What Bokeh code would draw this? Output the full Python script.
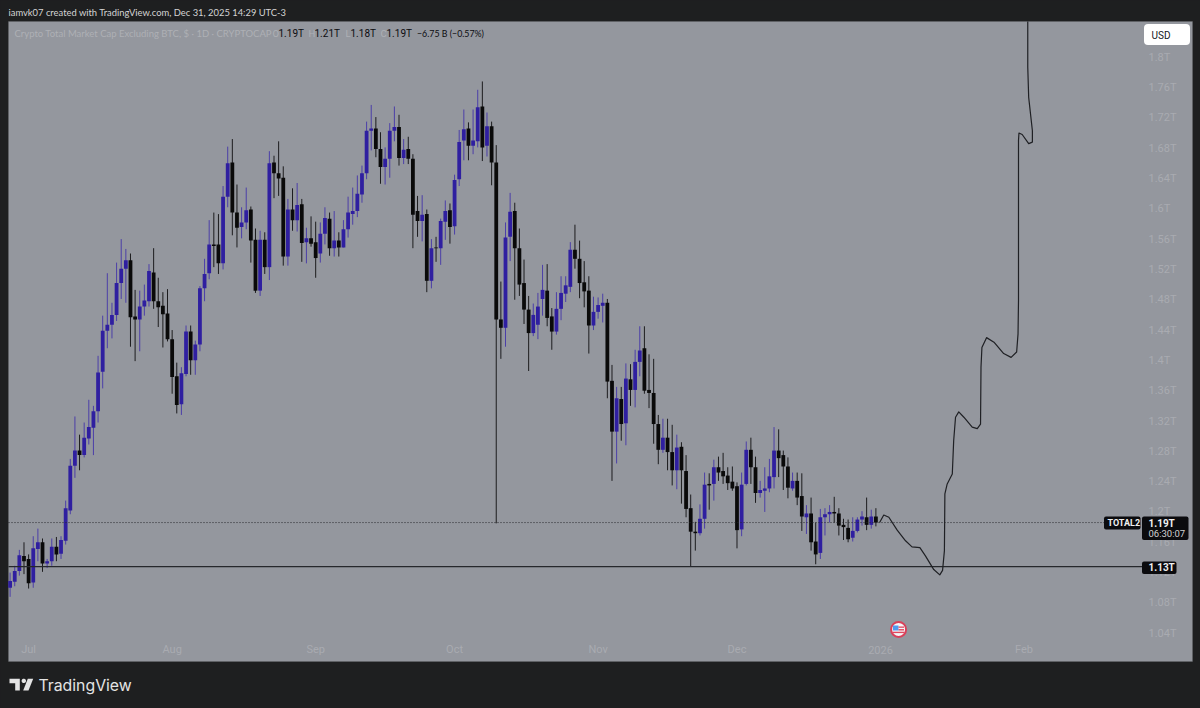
from bokeh.plotting import figure
from bokeh.embed import file_html
from bokeh.resources import INLINE
from bokeh.models import (ColumnDataSource, Range1d, Label, BoxAnnotation, PolyAnnotation)
from bokeh.core.properties import value
import numpy as np

opens = [1.100,1.108,1.122,1.142,1.138,1.107,1.151,1.160,1.132,1.135,1.154,1.145,1.162,1.202,1.261,1.281,1.275,1.297,1.311,1.333,
1.385,1.439,1.447,1.460,1.502,1.521,1.532,1.458,1.454,1.471,1.478,1.516,1.478,1.472,1.462,1.428,1.379,1.342,1.382,1.438,
1.400,1.421,1.495,1.515,1.553,1.553,1.528,1.616,1.661,1.595,1.576,1.582,1.599,1.559,1.492,1.559,1.523,1.661,1.647,1.641,
1.537,1.599,1.585,1.606,1.556,1.561,1.556,1.541,1.567,1.587,1.548,1.558,1.549,1.573,1.593,1.597,1.619,1.647,1.703,1.706,
1.679,1.655,1.666,1.703,1.708,1.667,1.679,1.666,1.597,1.584,1.593,1.505,1.549,1.548,1.583,1.598,1.577,1.639,1.690,1.706,
1.683,1.689,1.735,1.683,1.709,1.661,1.454,1.443,1.563,1.597,1.548,1.502,1.467,1.436,1.447,1.481,1.492,1.458,1.438,1.468,
1.488,1.497,1.546,1.534,1.503,1.492,1.446,1.464,1.472,1.476,1.373,1.306,1.349,1.317,1.375,1.361,1.398,1.416,1.361,1.357,
1.316,1.282,1.298,1.279,1.255,1.286,1.254,1.205,1.174,1.172,1.191,1.237,1.237,1.259,1.254,1.248,1.240,1.234,1.177,1.237,
1.282,1.259,1.225,1.228,1.231,1.246,1.281,1.275,1.260,1.231,1.241,1.221,1.193,1.198,1.161,1.146,1.193,1.197,1.200,1.198,
1.183,1.179,1.166,1.175,1.190,1.193,1.183,1.194]
highs = [1.120,1.129,1.150,1.160,1.144,1.168,1.178,1.165,1.138,1.165,1.167,1.168,1.215,1.270,1.326,1.302,1.318,1.348,1.340,1.406,
1.459,1.515,1.476,1.529,1.560,1.547,1.541,1.493,1.492,1.500,1.527,1.548,1.509,1.490,1.494,1.440,1.397,1.391,1.446,1.446,
1.426,1.498,1.534,1.585,1.595,1.593,1.630,1.682,1.692,1.632,1.602,1.628,1.603,1.574,1.571,1.569,1.676,1.670,1.689,1.656,
1.613,1.627,1.634,1.613,1.575,1.590,1.583,1.582,1.602,1.595,1.597,1.569,1.585,1.616,1.628,1.644,1.657,1.715,1.737,1.721,
1.701,1.681,1.713,1.735,1.724,1.692,1.695,1.672,1.617,1.618,1.599,1.560,1.563,1.587,1.611,1.607,1.645,1.704,1.731,1.714,
1.731,1.757,1.768,1.727,1.715,1.684,1.504,1.582,1.621,1.608,1.574,1.533,1.485,1.475,1.489,1.526,1.527,1.469,1.490,1.511,
1.511,1.556,1.579,1.558,1.531,1.511,1.484,1.483,1.488,1.481,1.394,1.365,1.365,1.396,1.395,1.414,1.445,1.445,1.408,1.402,
1.328,1.323,1.323,1.315,1.302,1.292,1.275,1.223,1.187,1.210,1.252,1.251,1.269,1.273,1.278,1.259,1.260,1.239,1.252,1.293,
1.298,1.273,1.241,1.259,1.270,1.312,1.309,1.281,1.272,1.252,1.252,1.251,1.209,1.219,1.186,1.204,1.205,1.209,1.220,1.205,
1.191,1.190,1.193,1.193,1.201,1.219,1.203,1.205]
lows = [1.088,1.102,1.116,1.118,1.099,1.100,1.135,1.121,1.126,1.129,1.135,1.138,1.157,1.197,1.245,1.255,1.272,1.289,1.275,1.318,
1.363,1.416,1.429,1.452,1.481,1.476,1.418,1.399,1.412,1.459,1.471,1.468,1.444,1.417,1.425,1.356,1.330,1.328,1.379,1.381,
1.381,1.412,1.478,1.507,1.523,1.514,1.520,1.602,1.565,1.549,1.561,1.573,1.529,1.489,1.485,1.514,1.506,1.614,1.617,1.525,
1.525,1.571,1.570,1.530,1.528,1.550,1.509,1.529,1.553,1.538,1.537,1.537,1.549,1.562,1.579,1.589,1.608,1.639,1.677,1.668,
1.633,1.632,1.641,1.689,1.657,1.659,1.659,1.548,1.563,1.557,1.490,1.495,1.530,1.526,1.559,1.554,1.566,1.630,1.664,1.664,
1.672,1.681,1.663,1.669,1.631,1.185,1.402,1.418,1.531,1.480,1.485,1.448,1.386,1.432,1.428,1.459,1.445,1.414,1.434,1.453,
1.477,1.490,1.521,1.482,1.470,1.409,1.440,1.455,1.450,1.350,1.241,1.264,1.294,1.288,1.340,1.338,1.379,1.356,1.337,1.290,
1.263,1.278,1.255,1.235,1.230,1.211,1.193,1.128,1.149,1.169,1.178,1.203,1.215,1.241,1.237,1.229,1.228,1.152,1.168,1.235,
1.237,1.212,1.219,1.200,1.226,1.231,1.246,1.229,1.218,1.228,1.209,1.175,1.171,1.149,1.131,1.138,1.169,1.186,1.186,1.169,
1.163,1.160,1.161,1.173,1.182,1.176,1.178,1.181]
closes = [1.109,1.122,1.143,1.135,1.106,1.152,1.160,1.132,1.135,1.154,1.144,1.163,1.205,1.261,1.281,1.275,1.298,1.312,1.333,1.384,
1.439,1.447,1.460,1.502,1.521,1.532,1.457,1.454,1.471,1.479,1.518,1.478,1.470,1.461,1.428,1.378,1.341,1.383,1.438,1.400,
1.421,1.495,1.514,1.553,1.551,1.528,1.616,1.660,1.595,1.575,1.582,1.598,1.558,1.492,1.559,1.523,1.660,1.647,1.640,1.537,
1.599,1.585,1.605,1.555,1.561,1.554,1.535,1.567,1.588,1.548,1.558,1.549,1.573,1.595,1.597,1.620,1.647,1.703,1.706,1.679,
1.655,1.666,1.703,1.708,1.667,1.678,1.666,1.592,1.584,1.592,1.505,1.548,1.548,1.584,1.597,1.576,1.638,1.688,1.705,1.683,
1.690,1.734,1.681,1.709,1.661,1.454,1.443,1.562,1.596,1.548,1.500,1.467,1.436,1.460,1.471,1.493,1.456,1.438,1.468,1.489,
1.499,1.546,1.534,1.502,1.491,1.446,1.464,1.473,1.476,1.372,1.306,1.350,1.316,1.376,1.361,1.398,1.413,1.360,1.357,1.316,
1.282,1.298,1.279,1.255,1.285,1.255,1.204,1.174,1.172,1.191,1.236,1.235,1.259,1.252,1.247,1.238,1.231,1.176,1.236,1.282,
1.259,1.225,1.229,1.231,1.247,1.281,1.271,1.260,1.232,1.241,1.219,1.194,1.198,1.160,1.144,1.193,1.197,1.200,1.198,1.182,
1.180,1.164,1.175,1.190,1.194,1.183,1.194,1.186]

# bars counted from Jun 27 (bar 0); Dec 31 is bar 187
month_ticks = [4, 35, 66, 96, 127, 157, 188, 219]
month_labels = ["Jul", "Aug", "Sep", "Oct", "Nov", "Dec", "2026", "Feb"]
price_ticks = [1.04,1.08,1.12,1.16,1.2,1.24,1.28,1.32,1.36,1.4,1.44,1.48,1.52,1.56,1.6,1.64,1.68,1.72,1.76,1.8]
price_labels = ["1.04T","1.08T","1.12T","1.16T","1.2T","1.24T","1.28T","1.32T","1.36T","1.4T","1.44T","1.48T","1.52T","1.56T","1.6T","1.64T","1.68T","1.72T","1.76T","1.8T"]

path_bar = [187.8,188.7,189.8,191.6,193.4,194.8,196.5,197.7,199.5,200.8,201.4,201.8,201.9,202.4,203.5,203.8,204.2,204.9,206.0,207.8,208.9,209.6,209.7,209.9,210.9,212.5,214.6,216.2,217.4,217.7,217.8,217.8,217.9,218.6,220.0,220.8,220.8,220.0,219.8,219.8]
path_val = [1.186,1.196,1.193,1.176,1.162,1.154,1.153,1.142,1.124,1.117,1.123,1.149,1.224,1.237,1.250,1.294,1.325,1.332,1.325,1.312,1.310,1.316,1.391,1.417,1.430,1.424,1.409,1.404,1.411,1.435,1.479,1.690,1.700,1.698,1.686,1.688,1.703,1.747,1.787,1.847]

last_price = 1.186
support = 1.128

DARK = "#1e1f20"
PANEL = "#94979e"
EDGE = "#6e7074"
UP = "#2f1fa0"
DOWN = "#0a0a0a"
UPW = "#4c3fa8"
DOWNW = "#1c1c1e"
TICK = "#a9abb1"
FONT = "Roboto"
CAPTION = "Lato"

# the plot area fills the whole 1200x708 canvas, so price tags and captions can sit anywhere on it
X0, X1 = -2.073, 257.11
Y0, Y1 = 0.9407, 1.8748
def dx(px): return X0 + px * (X1 - X0) / 1200
def dy(py): return Y1 - py * (Y1 - Y0) / 708

p = figure(width=1200, height=708, output_backend="svg", toolbar_location=None,
           x_range=Range1d(X0, X1), y_range=Range1d(Y0, Y1), x_axis_location=None, y_axis_location=None,
           min_border=0, background_fill_color=DARK, border_fill_color=DARK)
p.grid.visible = False
p.outline_line_color = None

def box(x0, x1, y0, y1, color, radius=0, level="annotation", line=None):
    p.add_layout(BoxAnnotation(left=x0, right=x1, top=y0, bottom=y1,
                               left_units="canvas", right_units="canvas", top_units="canvas", bottom_units="canvas",
                               fill_color=color, fill_alpha=1, line_color=line, border_radius=radius, level=level))

box(8, 1192, 21, 661, PANEL, level="underlay", line=EDGE)

p.text(x=[dx(1148)] * len(price_ticks), y=price_ticks, text=price_labels, text_color=TICK, text_font=value(FONT),
       text_font_size="11px", text_baseline="middle", text_align="left")
p.text(x=month_ticks, y=[dy(649)] * len(month_ticks), text=month_labels, text_color=TICK, text_font=value(FONT),
       text_font_size="11px", text_baseline="middle", text_align="center")

o, h, l, c = map(np.array, (opens, highs, lows, closes))
idx = np.arange(len(o))
up = c >= o
for mask, body, wick in ((up, UP, UPW), (~up, DOWN, DOWNW)):
    src = ColumnDataSource(dict(x=idx[mask], h=h[mask], l=l[mask], t=np.maximum(o, c)[mask], b=np.minimum(o, c)[mask]))
    p.segment(x0="x", y0="h", x1="x", y1="l", source=src, line_color=wick, line_width=1)
    p.vbar(x="x", top="t", bottom="b", width=0.82, source=src, fill_color=body, line_color=None)

p.line([dx(8), dx(1105)], [last_price, last_price], line_color="#26282c", line_width=1, line_dash="1 2")
p.line([dx(8), dx(1142)], [support, support], line_color="#26282c", line_width=1.2)
p.line(path_bar, path_val, line_color="#1f2024", line_width=1.2, line_join="round")

# calendar event marker
p.scatter([191.9], [1.045], size=15, marker="circle", fill_color="#f4f6f8", line_color="#d9405a", line_width=2)
box(892.5, 898, 625, 630, "#4f9bf0")
box(898, 903.5, 626, 627.3, "#e0475f")
box(898, 903.5, 628.6, 630, "#e0475f")
box(892, 904, 631.2, 632.6, "#e0475f")

def label(px, py, text, color, size=11, style="normal", font=FONT, align="left"):
    p.add_layout(Label(x=px, y=py, x_units="canvas", y_units="canvas", text=text, text_color=color, text_font=font,
                       text_font_size=f"{size}px", text_font_style=style, text_baseline="middle", text_align=align, level="annotation"))

label(8, 12, "iamvk07 created with TradingView.com, Dec 31, 2025 14:29 UTC-3", "#d4d4d4", 9.4, "normal", CAPTION)
label(14, 32.5, "Crypto Total Market Cap Excluding BTC, $ · 1D · CRYPTOCAP", "#aeb0b5", 9.5, "normal", CAPTION)
for x, t in ((272, "O"), (308, "H"), (345, "L"), (380, "C")):
    label(x, 32.5, t, "#aeb0b5", 9.5)
for x, t in ((278, "1.19T"), (314, "1.21T"), (350, "1.18T"), (386, "1.19T")):
    label(x, 32.5, t, "#0c0c10", 10)
label(416.5, 32.5, "−6.75 B (−0.57%)", "#0c0c10", 8.8, "normal", CAPTION)

box(1143.5, 1189.5, 23.5, 44.5, "#ffffff", 4)
label(1151, 34.5, "USD", "#131722", 10)

box(1103.5, 1140, 516, 529, "#0b0b0e", 2)
label(1107, 522.5, "TOTAL2", "#f0f0f0", 9, "bold")
box(1141.5, 1188, 516, 539.5, "#0b0b0e", 2)
label(1148, 522.5, "1.19T", "#f0f0f0", 10, "bold")
label(1148, 533, "06:30:07", "#d0d0d0", 9.5)
box(1141.5, 1176, 561, 573.5, "#0b0b0e", 2)
label(1148, 567, "1.13T", "#f0f0f0", 10, "bold")

# logo
for xs, ys in (([9, 19.3, 19.3, 14.7, 14.7, 9], [678.3, 678.3, 690, 690, 682.7, 682.7]),
               ([27.3, 32.7, 28, 22.7], [678.3, 678.3, 690, 690])):
    p.add_layout(PolyAnnotation(xs=xs, ys=ys, xs_units="canvas", ys_units="canvas", fill_color="#e4e4e4", fill_alpha=1, line_color=None, level="annotation"))
th = np.linspace(0, 2 * np.pi, 24)
p.add_layout(PolyAnnotation(xs=[23.3 + 2.2 * float(np.cos(a)) for a in th], ys=[680.4 + 2.2 * float(np.sin(a)) for a in th],
                            xs_units="canvas", ys_units="canvas", fill_color="#e4e4e4", fill_alpha=1, line_color=None, level="annotation"))
label(38, 685, "TradingView", "#e4e4e4", 15.8, "normal", "Inter")

css = f"html,body{{margin:0;padding:0;overflow:hidden;background:{DARK}}}"
html = file_html(p, INLINE).replace("<head>", f"<head><style>{css}</style>", 1)
open("out.html", "w").write(html)
